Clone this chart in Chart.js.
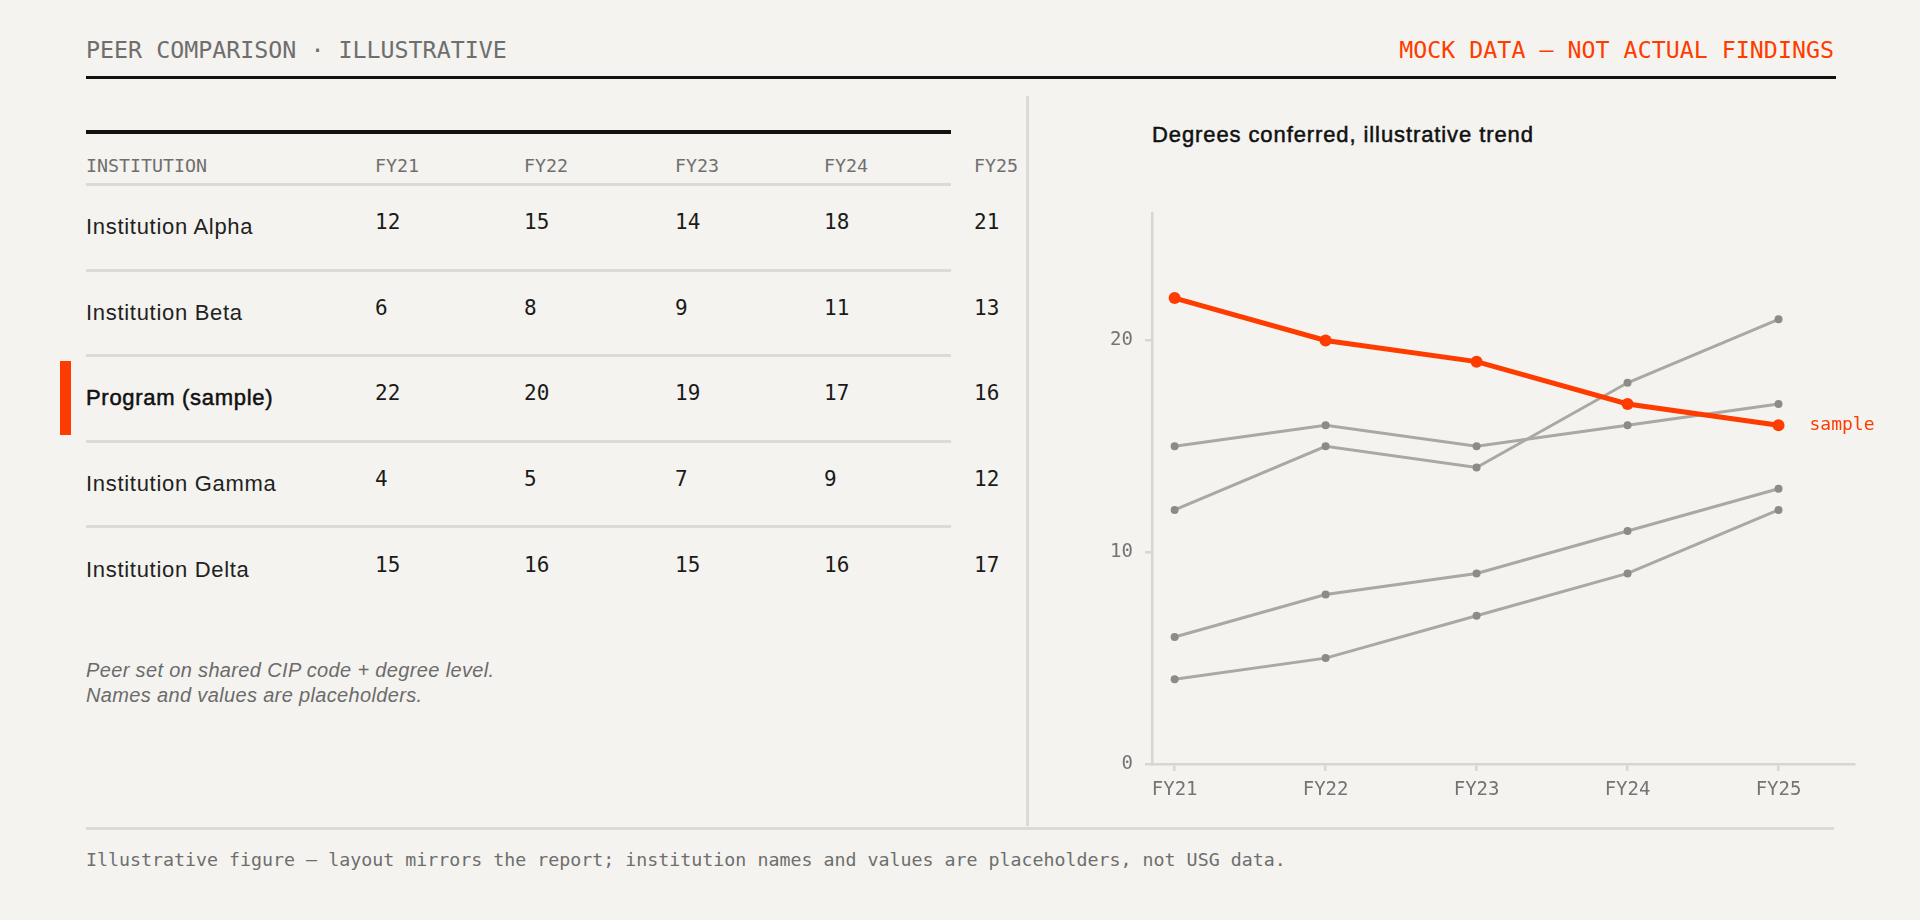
<!DOCTYPE html>
<html>
<head>
<meta charset="utf-8">
<script src="https://cdn.jsdelivr.net/npm/chart.js@4.4.1/dist/chart.umd.min.js"></script>
<style>
  html, body { margin: 0; padding: 0; }
  body { width: 1920px; height: 920px; background: #f4f3ef; position: relative; overflow: hidden; font-family: "Liberation Sans", Arial, sans-serif; }
  .mono { font-family: "DejaVu Sans Mono", monospace; }
  .abs { position: absolute; }
  #head-left { left: 86px; top: 36px; font-size: 23.3px; line-height: 28px; color: #6e6e6e; }
  #head-right { right: 86px; top: 36px; font-size: 23.3px; line-height: 28px; color: #ff3c00; }
  #head-rule { left: 86px; top: 76px; width: 1750px; height: 3px; background: #111; }
  #divider { left: 1026px; top: 96px; width: 3px; height: 730px; background: #dcdad5; }
  #table { left: 86px; top: 130px; width: 865px; }
  .top-rule { height: 4px; background: #111; width: 865px; }
  .row { display: grid; grid-template-columns: 289px 149px 151px 149px 150px 150px; width: 865px; }
  .hrow { height: 49px; align-items: end; border-bottom: 3px solid #dcdad5; }
  .hrow div { font-family: "DejaVu Sans Mono", monospace; font-size: 18.3px; line-height: 22px; color: #6f6f6f; padding-bottom: 6px; }
  .drow { height: 82.6px; align-items: center; border-bottom: 3px solid #dcdad5; }
  .drow.last { border-bottom: none; }
  .drow .name { font-size: 22px; letter-spacing: 0.7px; color: #222; }
  .drow.hl .name { color: #111; -webkit-text-stroke: 0.5px #111; }
  .drow .num { font-family: "DejaVu Sans Mono", monospace; font-size: 21px; color: #1a1a1a; position: relative; top: -5px; }
  #accent { left: 60px; top: 361px; width: 11px; height: 74px; background: #ff3c00; }
  #note { left: 86px; top: 658px; font-size: 20px; letter-spacing: 0.35px; line-height: 25px; font-style: italic; color: #6b6b6b; }
  #foot-rule { left: 86px; top: 827px; width: 1748px; height: 3px; background: #dcdad5; }
  #foot { left: 86px; top: 849px; font-size: 18.3px; line-height: 22px; color: #6e6e6e; }
  #chart-title { left: 1152px; top: 121px; font-size: 22px; letter-spacing: 0.9px; line-height: 28px; color: #111; -webkit-text-stroke: 0.5px #111; }
  #chart-box { left: 1040px; top: 190px; width: 860px; height: 640px; }
</style>
</head>
<body>
<div id="head-left" class="abs mono">PEER COMPARISON · ILLUSTRATIVE</div>
<div id="head-right" class="abs mono">MOCK DATA — NOT ACTUAL FINDINGS</div>
<div id="head-rule" class="abs"></div>
<div id="divider" class="abs"></div>

<div id="table" class="abs"></div>
<div id="accent" class="abs"></div>
<div id="note" class="abs">Peer set on shared CIP code + degree level.<br>Names and values are placeholders.</div>

<div id="chart-title" class="abs">Degrees conferred, illustrative trend</div>
<div id="chart-box" class="abs"><canvas id="trend"></canvas></div>

<div id="foot-rule" class="abs"></div>
<div id="foot" class="abs mono">Illustrative figure — layout mirrors the report; institution names and values are placeholders, not USG data.</div>

<script>
const years = ["FY21", "FY22", "FY23", "FY24", "FY25"];
const institutions = ["Institution Alpha", "Institution Beta", "Program (sample)", "Institution Gamma", "Institution Delta"];
const alpha = [12, 15, 14, 18, 21];
const beta = [6, 8, 9, 11, 13];
const program = [22, 20, 19, 17, 16];
const gamma = [4, 5, 7, 9, 12];
const delta = [15, 16, 15, 16, 17];
const yTicks = [0, 10, 20];
const yMax = 26;

const series = [alpha, beta, program, gamma, delta];
const highlight = 2;

const RED = "#ff3c00";
const GREY_LINE = "#aaa8a4";
const GREY_POINT = "#8d8b87";
const AXIS = "#d8d6d1";
const MONO = '"DejaVu Sans Mono", monospace';

// table
function renderTable() {
  const table = document.getElementById("table");
  let html = '<div class="top-rule"></div>';
  html += '<div class="row hrow"><div>INSTITUTION</div>' + years.map((y) => `<div>${y}</div>`).join("") + "</div>";
  institutions.forEach((name, i) => {
    const cls = ["row", "drow"];
    if (i === highlight) cls.push("hl");
    if (i === institutions.length - 1) cls.push("last");
    html += `<div class="${cls.join(" ")}"><div class="name">${name}</div>` +
      series[i].map((v) => `<div class="num">${v}</div>`).join("") + "</div>";
  });
  table.innerHTML = html;
}

// chart
const endLabel = {
  id: "endLabel",
  afterDatasetsDraw(chart) {
    const meta = chart.getDatasetMeta(highlight);
    const pt = meta.data[meta.data.length - 1];
    const ctx = chart.ctx;
    ctx.save();
    ctx.font = "18px " + MONO;
    ctx.fillStyle = RED;
    ctx.textBaseline = "middle";
    ctx.textAlign = "left";
    ctx.fillText("sample", pt.x + 31, pt.y);
    ctx.restore();
  },
};

function renderChart() {
  const ctx = document.getElementById("trend").getContext("2d");
  const datasets = series.map((vals, i) => {
    const hl = i === highlight;
    return {
      label: institutions[i],
      data: vals.map((v, j) => ({ x: j, y: v })),
      borderColor: hl ? RED : GREY_LINE,
      borderWidth: hl ? 5 : 3,
      pointRadius: hl ? 6 : 4,
      pointBackgroundColor: hl ? RED : GREY_POINT,
      pointBorderWidth: 0,
      tension: 0,
      order: hl ? 0 : 1,
    };
  });

  new Chart(ctx, {
    type: "line",
    data: { datasets },
    options: {
      responsive: true,
      maintainAspectRatio: false,
      animation: false,
      layout: { autoPadding: false, padding: { left: 0, right: 46, top: 21, bottom: 16 } },
      plugins: { legend: { display: false }, tooltip: { enabled: false } },
      scales: {
        x: {
          type: "linear",
          min: -0.15,
          max: 4.5,
          afterBuildTicks: (scale) => { scale.ticks = years.map((y, i) => ({ value: i })); },
          afterFit: (scale) => { scale.height = 50; },
          ticks: {
            callback: (v) => years[v],
            font: { family: MONO, size: 19 },
            color: "#747474",
            padding: 8,
            maxRotation: 0,
          },
          grid: { drawOnChartArea: false, drawTicks: true, tickLength: 7, color: AXIS, lineWidth: 2.5 },
          border: { display: true, color: AXIS, width: 2.5 },
        },
        y: {
          min: 0,
          max: yMax,
          afterBuildTicks: (scale) => { scale.ticks = yTicks.map((v) => ({ value: v })); },
          afterFit: (scale) => { scale.width = 112; },
          ticks: {
            font: { family: MONO, size: 19 },
            color: "#747474",
            padding: 12,
          },
          grid: { drawOnChartArea: false, drawTicks: true, tickLength: 7, color: AXIS, lineWidth: 2.5 },
          border: { display: true, color: AXIS, width: 2.5 },
        },
      },
    },
    plugins: [endLabel],
  });
}

renderTable();
renderChart();
</script>
</body>
</html>
